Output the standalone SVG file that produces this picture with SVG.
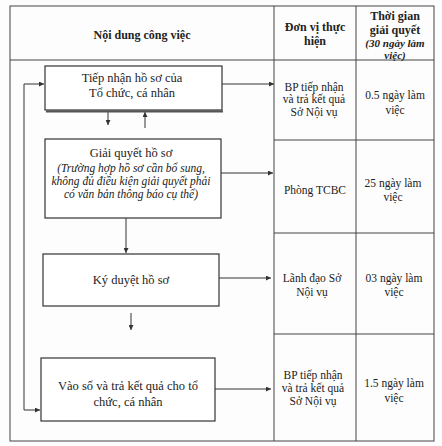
<svg xmlns="http://www.w3.org/2000/svg" width="442" height="446" viewBox="0 0 442 446">
<defs>
<marker id="ah" viewBox="0 0 10 10" refX="10" refY="5" markerWidth="5" markerHeight="5" orient="auto">
<path d="M0,0 L10,5 L0,10 z" fill="#333"/>
</marker>
<style>
text{font-family:"Liberation Serif","Times New Roman",serif;fill:#222;text-anchor:middle}
.h{font-size:12px;font-weight:bold}
.hi{font-size:11px;font-weight:bold;font-style:italic}
.b{font-size:12.5px}
.i{font-size:11.5px;font-style:italic}
.c{font-size:11.5px}
.grid{stroke:#444;stroke-width:1;fill:none}
.box{stroke:#333;stroke-width:1.2;fill:#fff}
.con{stroke:#333;stroke-width:1;fill:none;marker-end:url(#ah)}
</style>
</defs>
<rect width="442" height="446" fill="#fdfdfd"/>
<g id="table">
<rect class="grid" x="10" y="6" width="424" height="435"/>
<line class="grid" x1="10" y1="60" x2="434" y2="60"/>
<line class="grid" x1="274" y1="6" x2="274" y2="441"/>
<line class="grid" x1="356" y1="6" x2="356" y2="441"/>
<line class="grid" x1="274" y1="140" x2="434" y2="140"/>
<line class="grid" x1="274" y1="233" x2="434" y2="233"/>
<line class="grid" x1="274" y1="334" x2="434" y2="334"/>
<text class="h" x="142" y="39">Nội dung công việc</text>
<text class="h" x="315" y="31">Đơn vị thực</text>
<text class="h" x="315" y="45">hiện</text>
<text class="h" x="395" y="20">Thời gian</text>
<text class="h" x="395" y="34">giải quyết</text>
<text class="hi" x="395" y="47">(30 ngày làm</text>
<text class="hi" x="395" y="59">việc)</text>
<text class="c" x="314" y="91">BP tiếp nhận</text>
<text class="c" x="314" y="103">và trả kết quả</text>
<text class="c" x="314" y="116">Sở Nội vụ</text>
<text class="c" x="395" y="99">0.5 ngày làm</text>
<text class="c" x="395" y="114">việc</text>
<text class="c" x="315" y="194">Phòng TCBC</text>
<text class="c" x="393" y="187">25 ngày làm</text>
<text class="c" x="393" y="201">việc</text>
<text class="c" x="312" y="282">Lãnh đạo Sở</text>
<text class="c" x="312" y="296">Nội vụ</text>
<text class="c" x="394" y="282">03 ngày làm</text>
<text class="c" x="394" y="296">việc</text>
<text class="c" x="313" y="379">BP tiếp nhận</text>
<text class="c" x="313" y="392">và trả kết quả</text>
<text class="c" x="313" y="405">Sở Nội vụ</text>
<text class="c" x="394" y="387">1.5 ngày làm</text>
<text class="c" x="394" y="402">việc</text>
</g>
<g id="connectors">
<line class="con" x1="222" y1="84" x2="274" y2="84"/>
<line class="con" x1="108" y1="112" x2="108" y2="125"/>
<line class="con" x1="145" y1="128" x2="145" y2="112"/>
<line class="con" x1="221" y1="173" x2="273" y2="173"/>
<line class="con" x1="126" y1="218" x2="126" y2="253"/>
<line class="con" x1="218" y1="278" x2="271" y2="278"/>
<line class="con" x1="131" y1="313" x2="131" y2="330"/>
<line class="con" x1="215" y1="389" x2="271" y2="389"/>
<path class="con" d="M24,84 L24,410 L40,410"/>
<line class="con" x1="24" y1="84" x2="44" y2="84"/>
</g>
<g id="n1">
<line x1="46" y1="111.5" x2="223" y2="111.5" stroke="#555" stroke-width="2"/>
<rect class="box" x="45" y="66" width="177" height="44"/>
<text class="b" x="132" y="82">Tiếp nhận hồ sơ của</text>
<text class="b" x="132" y="97">Tổ chức, cá nhân</text>
</g>
<g id="n2">
<rect class="box" x="45" y="139" width="176" height="79"/>
<text class="b" x="131" y="157">Giải quyết hồ sơ</text>
<text class="i" x="131" y="172">(Trường hợp hồ sơ cần bổ sung,</text>
<text class="i" x="131" y="185">không đủ điều kiện giải quyết phải</text>
<text class="i" x="131" y="198">có văn bản thông báo cụ thể)</text>
</g>
<g id="n3">
<rect class="box" x="43" y="254" width="176" height="52"/>
<text class="b" x="131" y="284">Ký duyệt hồ sơ</text>
</g>
<g id="n4">
<rect class="box" x="41" y="358" width="174" height="63"/>
<text class="b" x="128" y="390">Vào số và trả kết quả cho tổ</text>
<text class="b" x="128" y="406">chức, cá nhân</text>
</g>
</svg>
